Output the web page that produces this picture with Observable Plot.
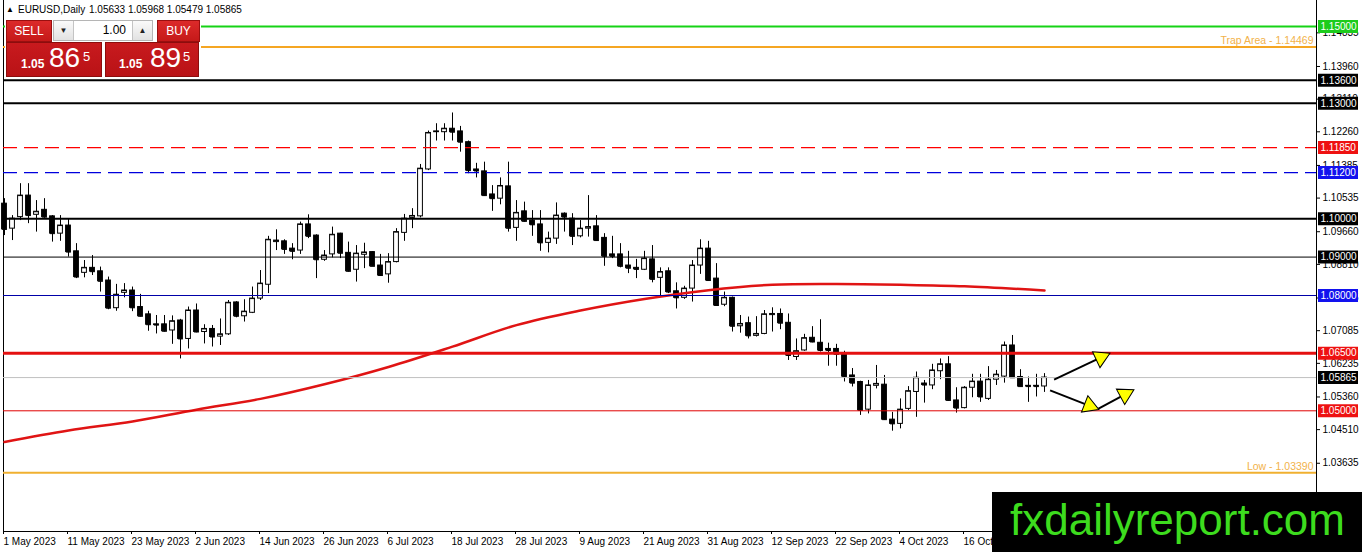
<!DOCTYPE html>
<html>
<head>
<meta charset="utf-8">
<script src="https://cdn.jsdelivr.net/npm/d3@7"></script>
<script src="https://cdn.jsdelivr.net/npm/@observablehq/plot@0.6"></script>
<style>
  body { margin: 0; background: #fff; }
  #wrap { position: relative; width: 1362px; height: 552px; overflow: hidden; font-family: "Liberation Sans", Arial, sans-serif; }
  #chart { position: absolute; left: 0; top: 0; }
  .abs { position: absolute; }
  .hdr { font-size: 10px; color: #000; top: 4px; white-space: nowrap; }
  .btn { background: linear-gradient(#dc2a2a, #c51919); color: #fff; font-size: 12px; text-align: center; line-height: 20px; border: 1px solid #9a0f0f; box-sizing: border-box; }
  .big { background: linear-gradient(#c81a1e, #b91216); border: 1px solid #8c0d0d; box-sizing: border-box; color: #fff; }
  .big span { position: absolute; white-space: nowrap; line-height: 1; }
  .lot { background: #fff; border: 1px solid #b5b5b5; box-sizing: border-box; }
  .arr { position: absolute; top: 0; width: 19px; height: 19px; background: linear-gradient(#fafafa, #e2e2e2); font-size: 8px; line-height: 19px; text-align: center; color: #222; }
</style>
</head>
<body>
<div id="wrap">
  <div id="chart"></div>

  <!-- header -->
  <div class="abs hdr" style="left:6px;top:5px;font-size:8px;">▲</div>
  <div class="abs hdr" style="left:18px;">EURUSD,Daily</div>
  <div class="abs hdr" style="left:89px;">1.05633 1.05968 1.05479 1.05865</div>

  <!-- one-click trading panel -->
  <div class="abs" style="left:5px;top:19px;width:196px;height:59px;background:#fff;"></div>
  <div class="abs btn" style="left:6px;top:20px;width:46px;height:22px;">SELL</div>
  <div class="abs lot" style="left:53px;top:20px;width:100px;height:21px;">
    <div class="arr" style="left:0;border-right:1px solid #c4c4c4;">▼</div>
    <div class="abs" style="right:26px;top:2px;font-size:12px;color:#000;">1.00</div>
    <div class="arr" style="right:0;border-left:1px solid #c4c4c4;">▲</div>
  </div>
  <div class="abs btn" style="left:157px;top:20px;width:43px;height:22px;">BUY</div>
  <div class="abs big" style="left:6px;top:42px;width:96px;height:35px;">
    <span style="left:14px;top:15px;font-size:12px;font-weight:bold;">1.05</span>
    <span style="left:42px;top:1px;font-size:28px;">86</span>
    <span style="left:76px;top:7px;font-size:13px;">5</span>
  </div>
  <div class="abs big" style="left:105px;top:42px;width:94px;height:35px;">
    <span style="left:13px;top:15px;font-size:12px;font-weight:bold;">1.05</span>
    <span style="left:44px;top:1px;font-size:28px;">89</span>
    <span style="left:77px;top:7px;font-size:13px;">5</span>
  </div>

  <!-- logo -->
  <div class="abs" style="left:992px;top:492px;width:370px;height:60px;background:#000;">
    <svg width="370" height="60" style="display:block">
      <text x="18" y="43" font-size="44" fill="#3ddc1e" textLength="335" lengthAdjust="spacingAndGlyphs"
        font-family="'Liberation Sans Narrow','Liberation Sans',Arial,sans-serif">fxdailyreport.com</text>
    </svg>
  </div>
</div>

<script>
// ---------------- DATA ----------------
// Daily EURUSD candles, bar 0 = 1 May 2023
const open = [1.1039,1.0974,1.1004,1.1060,1.1010,1.1023,1.1006,1.0961,1.0982,1.0915,
1.0859,1.0872,1.0863,1.0839,1.0767,1.0807,1.0813,1.0770,1.0751,1.0725,
1.0725,1.0709,1.0735,1.0687,1.0761,1.0705,1.0713,1.0693,1.0699,1.0782,
1.0746,1.0755,1.0792,1.0828,1.0939,1.0941,1.0922,1.0917,1.0985,1.0956,
1.0893,1.0907,1.0961,1.0911,1.0867,1.0906,1.0913,1.0878,1.0855,1.0887,
1.0963,1.1002,1.1006,1.1128,1.1225,1.1225,1.1234,1.1227,1.1199,1.1128,
1.1123,1.1063,1.1052,1.1084,1.0976,1.1019,1.0995,1.0985,1.0937,1.0948,
1.1013,1.1000,1.0954,1.0974,1.0980,1.0950,1.0907,1.0907,1.0878,1.0872,
1.0867,1.0894,1.0846,1.0863,1.0811,1.0794,1.0818,1.0878,1.0922,1.0844,
1.0776,1.0794,1.0720,1.0728,1.0695,1.0700,1.0749,1.0752,1.0729,1.0640,
1.0657,1.0690,1.0677,1.0661,1.0661,1.0648,1.0592,1.0575,1.0503,1.0565,
1.0568,1.0477,1.0466,1.0505,1.0549,1.0571,1.0566,1.0603,1.0621,1.0527,
1.0507,1.0560,1.0576,1.0531,1.0581,1.0589,1.0670,1.0588,1.0565,1.0565,
1.05633];
const high = [1.1052,1.1008,1.1091,1.1091,1.1047,1.1052,1.1008,1.1008,1.1000,1.0935,
1.0891,1.0904,1.0874,1.0848,1.0829,1.0831,1.0822,1.0803,1.0759,1.0748,
1.0748,1.0747,1.0738,1.0770,1.0778,1.0724,1.0722,1.0739,1.0787,1.0784,
1.0789,1.0822,1.0865,1.0954,1.0971,1.0945,1.0935,1.0991,1.1010,1.0958,
1.0917,1.0978,1.0962,1.0939,1.0930,1.0936,1.0914,1.0907,1.0909,1.0974,
1.1011,1.1026,1.1141,1.1228,1.1247,1.1247,1.1275,1.1240,1.1202,1.1144,
1.1147,1.1086,1.1106,1.1147,1.1047,1.1043,1.1021,1.1021,1.0965,1.1041,
1.1015,1.1013,1.0995,1.1060,1.1008,1.0961,1.0954,1.0935,1.0915,1.0894,
1.0915,1.0930,1.0872,1.0872,1.0833,1.0824,1.0891,1.0945,1.0941,1.0883,
1.0809,1.0796,1.0748,1.0744,1.0745,1.0761,1.0768,1.0765,1.0752,1.0687,
1.0699,1.0719,1.0737,1.0676,1.0673,1.0655,1.0610,1.0577,1.0579,1.0618,
1.0592,1.0496,1.0531,1.0563,1.0601,1.0579,1.0621,1.0635,1.0641,1.0560,
1.0563,1.0595,1.0595,1.0615,1.0605,1.0679,1.0696,1.0607,1.0588,1.0595,
1.05968];
const low = [1.0956,1.0943,1.0995,1.0987,1.0965,1.1001,1.0939,1.0941,1.0900,1.0844,
1.0846,1.0852,1.0809,1.0763,1.0759,1.0794,1.0758,1.0744,1.0707,1.0700,
1.0705,1.0673,1.0635,1.0661,1.0703,1.0674,1.0666,1.0670,1.0696,1.0742,
1.0731,1.0753,1.0787,1.0805,1.0917,1.0907,1.0893,1.0907,1.0948,1.0844,
1.0889,1.0898,1.0896,1.0861,1.0835,1.0870,1.0876,1.0850,1.0832,1.0885,
1.0941,1.0974,1.1002,1.1125,1.1202,1.1202,1.1202,1.1173,1.1117,1.1106,
1.1058,1.1019,1.1036,1.0965,1.0941,1.0991,1.0954,1.0915,1.0911,1.0933,
1.0965,1.0930,1.0950,1.0952,1.0941,1.0876,1.0896,1.0872,1.0857,1.0844,
1.0865,1.0833,1.0800,1.0805,1.0765,1.0790,1.0783,1.0855,1.0837,1.0772,
1.0771,1.0705,1.0702,1.0687,1.0692,1.0698,1.0705,1.0711,1.0631,1.0631,
1.0655,1.0677,1.0653,1.0616,1.0616,1.0575,1.0562,1.0488,1.0492,1.0557,
1.0475,1.0447,1.0453,1.0501,1.0483,1.0520,1.0555,1.0581,1.0525,1.0494,
1.0505,1.0534,1.0522,1.0527,1.0566,1.0572,1.0584,1.0563,1.0522,1.0536,
1.05479];
const close = [1.0972,1.1000,1.1060,1.1008,1.1018,1.1004,1.0961,1.0982,1.0913,1.0848,
1.0872,1.0862,1.0837,1.0767,1.0802,1.0813,1.0768,1.0746,1.0724,1.0723,
1.0707,1.0733,1.0687,1.0761,1.0705,1.0713,1.0692,1.0699,1.0781,1.0746,
1.0758,1.0792,1.0831,1.0945,1.0943,1.0920,1.0915,1.0985,1.0954,1.0893,
1.0904,1.0958,1.0910,1.0863,1.0909,1.0912,1.0876,1.0852,1.0887,1.0965,
1.1000,1.1007,1.1130,1.1223,1.1227,1.1234,1.1225,1.1199,1.1125,1.1124,
1.1060,1.1052,1.1085,1.0975,1.1015,1.0993,1.0984,1.0937,1.0948,1.1008,
1.1004,1.0954,1.0974,1.0978,1.0943,1.0902,1.0902,1.0876,1.0871,1.0868,
1.0896,1.0842,1.0861,1.0809,1.0794,1.0818,1.0878,1.0922,1.0839,1.0774,
1.0794,1.0720,1.0726,1.0695,1.0700,1.0751,1.0752,1.0728,1.0644,1.0655,
1.0689,1.0679,1.0657,1.0657,1.0647,1.0589,1.0572,1.0501,1.0566,1.0570,
1.0477,1.0466,1.0503,1.0551,1.0586,1.0567,1.0605,1.0621,1.0527,1.0507,
1.0560,1.0576,1.0536,1.0581,1.0594,1.0670,1.0586,1.0563,1.0563,1.0563,
1.05865];

// Moving average (red curve), read at these bars
const maBars   = [0, 8, 16, 24, 32, 40, 48, 56, 64, 72, 80, 88, 96, 104, 112, 120, 130];
const maValues = [1.0419,1.0449,1.0472,1.0503,1.0531,1.0569,1.0614,1.0667,1.0723,1.0761,1.0791,1.0814,1.0828,1.0830,1.0828,1.0824,1.0813];

// Horizontal levels
const levelPrices = [1.15, 1.14469, 1.136, 1.13, 1.1185, 1.112, 1.10, 1.09, 1.08, 1.065, 1.05865, 1.05, 1.0339];
const levelTexts  = ["", "Trap Area - 1.14469", "", "", "", "", "", "", "", "", "", "", "Low - 1.03390"];

// Price axis tick labels
const yTicks = [1.14835, 1.13960, 1.13110, 1.12260, 1.11385, 1.10535, 1.09660, 1.08810, 1.07935, 1.07085, 1.06235, 1.05360, 1.04510, 1.03635];

// Date axis
const tickBars   = [0, 8, 16, 24, 32, 40, 48, 56, 64, 72, 80, 88, 96, 104, 112, 120];
const tickLabels = ["1 May 2023","11 May 2023","23 May 2023","2 Jun 2023","14 Jun 2023","26 Jun 2023","6 Jul 2023","18 Jul 2023","28 Jul 2023","9 Aug 2023","21 Aug 2023","31 Aug 2023","12 Sep 2023","22 Sep 2023","4 Oct 2023","16 Oct 2023"];

// Annotation arrows (bar, price)
const arrowFrom = [[131.2, 1.0581], [130.7, 1.0553], [136.7, 1.0505]];
const arrowTo   = [[138.0, 1.0648], [136.6, 1.0505], [141.0, 1.0553]];

// ---------------- STYLES / LAYOUT ----------------
const levelStyle = [
  {color: "#16d316", w: 2, box: "#1ccc1c"},
  {color: "#f5a623", w: 2, textColor: "#f2b24a"},
  {color: "#000000", w: 2, box: "#000000"},
  {color: "#000000", w: 2, box: "#000000"},
  {color: "#ff0000", w: 1.3, dash: "14,7", box: "#ee1111"},
  {color: "#0000dd", w: 1.3, dash: "14,7", box: "#1212ee"},
  {color: "#000000", w: 2, box: "#000000"},
  {color: "#000000", w: 1, box: "#000000"},
  {color: "#0000a8", w: 1, box: "#1212ee"},
  {color: "#e41010", w: 3, box: "#ee1111"},
  {color: "#c0c0c0", w: 1, box: "#000000"},
  {color: "#e00000", w: 1, box: "#ee1111"},
  {color: "#f0b030", w: 2, textColor: "#f2b24a"}
];

const W = 1362, H = 552, mL = 3, mR = 46, mT = 0, mB = 21;
const xDomain = [-0.125, 164];
const yDomain = [1.018594, 1.156766];
const kx = (W - mL - mR) / (xDomain[1] - xDomain[0]);   // px per bar
const ky = (H - mT - mB) / (yDomain[1] - yDomain[0]);   // px per price unit
const xr = xDomain[1];

const bars = d3.range(open.length);
const maData = maBars.map((b, i) => ({x: b, y: maValues[i]}));

const levels = levelPrices.map((p, i) => ({price: p, label: levelTexts[i], ...levelStyle[i]}));
const boxed = levels.filter(d => d.box);
const texted = levels.filter(d => d.label);

const arrows = arrowFrom.map((a, i) => {
  const b = arrowTo[i];
  const dxp = (b[0] - a[0]) * kx, dyp = -(b[1] - a[1]) * ky;
  const len = Math.hypot(dxp, dyp), ux = dxp / len, uy = dyp / len;
  return {
    x1: a[0], y1: a[1], x2: b[0], y2: b[1],
    hx: b[0] - 8.5 * ux / kx, hy: b[1] + 8.5 * uy / ky,
    rot: Math.atan2(dxp, -dyp) * 180 / Math.PI
  };
});

const marks = [
  // frame
  Plot.ruleX([xDomain[0], xDomain[1]], {stroke: "#000", strokeWidth: 1}),
  Plot.ruleY([yDomain[0]], {stroke: "#000", strokeWidth: 1}),
  // axes
  Plot.axisY(yTicks, {anchor: "right", tickSize: 3, tickPadding: 3, tickFormat: d => d.toFixed(5), fontSize: 10, color: "#000"}),
  Plot.axisX(tickBars, {anchor: "bottom", tickSize: 3, tickPadding: 3, textAnchor: "start", dx: -1,
    tickFormat: d => tickLabels[tickBars.indexOf(d)], fontSize: 10, color: "#000"}),
  // candles
  Plot.ruleX(bars, {x: i => i, y1: i => low[i], y2: i => high[i], stroke: "#000", strokeWidth: 1}),
  Plot.rect(bars, {x1: i => i - 0.3, x2: i => i + 0.3, y1: i => open[i], y2: i => close[i],
    fill: i => close[i] >= open[i] ? "#ffffff" : "#000000", stroke: "#000", strokeWidth: 1}),
  Plot.link(bars, {x1: i => i - 0.3, x2: i => i + 0.3, y1: i => close[i], y2: i => close[i], stroke: "#000", strokeWidth: 1}),
  // moving average
  Plot.line(maData, {x: "x", y: "y", stroke: "#e01414", strokeWidth: 2.5, curve: "catmull-rom"}),
  // levels
  ...levels.map(d => Plot.ruleY([d.price], {stroke: d.color, strokeWidth: d.w, strokeDasharray: d.dash})),
  Plot.text(texted, {x: () => xr - 3 / kx, y: "price", text: "label", fill: "textColor",
    textAnchor: "end", dy: -6, fontSize: 10.5}),
  // right-hand price boxes
  Plot.ruleY(boxed, {y: "price", x1: () => xr + 2 / kx, x2: () => xr + 42 / kx, stroke: "box", strokeWidth: 13}),
  Plot.text(boxed, {y: "price", x: () => xr + 4 / kx, text: d => d.price.toFixed(5), fill: "#fff", textAnchor: "start", fontSize: 10}),
  // arrows
  Plot.link(arrows, {x1: "x1", y1: "y1", x2: "x2", y2: "y2", stroke: "#000", strokeWidth: 2}),
  Plot.dot(arrows, {x: "hx", y: "hy", rotate: "rot", symbol: "triangle", r: 6.5, fill: "#ffff00", stroke: "#000", strokeWidth: 1})
];

const chart = Plot.plot({
  width: W, height: H,
  marginLeft: mL, marginRight: mR, marginTop: mT, marginBottom: mB,
  x: {type: "linear", domain: xDomain},
  y: {type: "linear", domain: yDomain},
  style: {fontFamily: '"Liberation Sans", Arial, sans-serif', fontSize: "10px", background: "transparent", color: "#000", overflow: "visible"},
  marks
});
document.getElementById("chart").appendChild(chart);
</script>
</body>
</html>
